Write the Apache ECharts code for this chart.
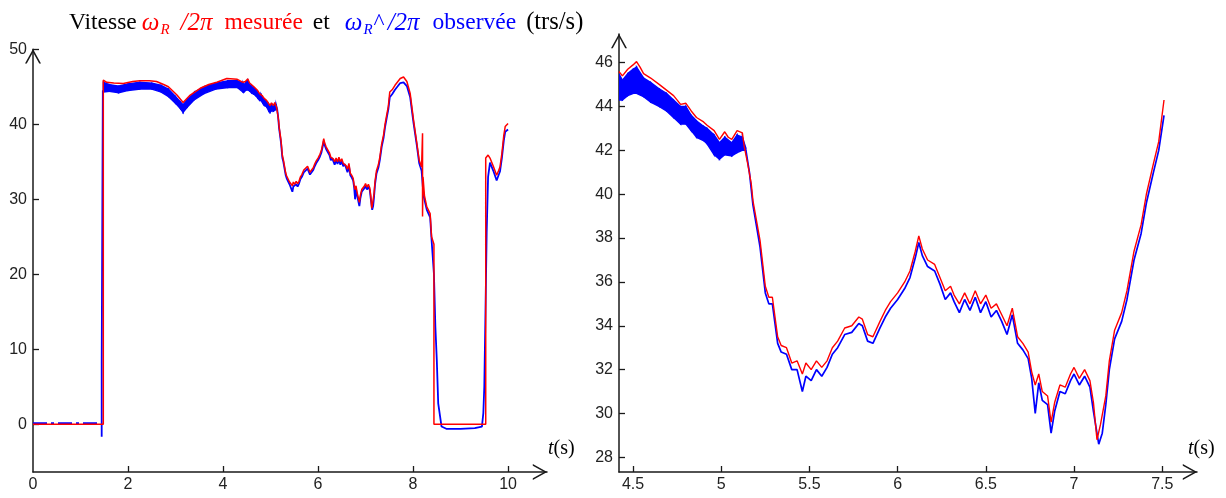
<!DOCTYPE html>
<html>
<head>
<meta charset="utf-8">
<script src="https://cdn.jsdelivr.net/npm/echarts@6/dist/echarts.min.js"></script>
<style>html,body{margin:0;padding:0;background:#fff}#c{width:1226px;height:498px}</style>
</head>
<body>
<div id="c"></div>
<script>
// ---- Tick labels ----
const leftXTicks = [0, 2, 4, 6, 8, 10];
const leftYTicks = [0, 10, 20, 30, 40, 50];
const rightXTicks = [4.5, 5, 5.5, 6, 6.5, 7, 7.5];
const rightYTicks = [28, 30, 32, 34, 36, 38, 40, 42, 44, 46];

// ---- Measured speed (red), [t (s), trs/s] ----
const redPoints = [
  [0,0],[1.48,0],[1.48,45.9],[1.55,45.6],[1.7,45.5],[1.9,45.45],[2.1,45.7],[2.25,45.8],[2.45,45.8],[2.6,45.7],
  [2.75,45.3],[2.85,45.0],[3.03,43.9],[3.16,42.9],[3.31,43.9],[3.52,44.8],[3.7,45.3],[3.87,45.6],[4.08,46.1],[4.3,46.0],
  [4.42,45.6],[4.44,45.4],[4.47,45.7],[4.5,45.9],[4.52,46.05],[4.54,45.8],[4.56,45.5],[4.6,45.3],[4.65,45.0],[4.69,44.75],
  [4.73,44.5],[4.77,44.1],[4.8,44.15],[4.83,43.8],[4.86,43.5],[4.9,43.3],[4.92,43.15],[4.96,42.9],[4.99,42.5],[5.02,42.85],
  [5.04,42.6],[5.06,42.5],[5.09,42.9],[5.12,42.8],[5.13,42.2],[5.15,41.4],[5.17,40.5],[5.18,39.7],[5.22,37.9],[5.25,35.8],
  [5.27,35.3],[5.29,35.3],[5.32,33.5],[5.34,33.1],[5.37,33.0],[5.40,32.3],[5.43,32.4],[5.46,31.8],[5.48,32.3],[5.51,32.0],
  [5.54,32.4],[5.57,32.1],[5.60,32.4],[5.63,33.0],[5.66,33.3],[5.70,33.9],[5.74,34.0],[5.78,34.4],[5.80,34.3],[5.83,33.6],
  [5.86,33.5],[5.9,34.2],[5.93,34.7],[5.96,35.1],[6.0,35.5],[6.04,36.0],[6.07,36.5],[6.1,37.4],[6.12,38.1],[6.14,37.5],
  [6.17,37.0],[6.21,36.8],[6.24,36.2],[6.27,35.6],[6.3,35.8],[6.32,35.4],[6.35,35.0],[6.38,35.5],[6.41,35.0],[6.44,35.6],
  [6.47,35.0],[6.5,35.4],[6.53,34.8],[6.56,35.0],[6.59,34.5],[6.62,34.0],[6.65,34.8],[6.68,33.5],[6.71,33.2],[6.74,32.8],
  [6.76,31.9],[6.78,31.3],[6.8,31.8],[6.82,31.0],[6.85,30.8],[6.87,29.6],[6.89,30.5],[6.92,31.3],[6.95,31.2],[6.98,31.8],
  [7.0,32.1],[7.03,31.6],[7.06,32.0],[7.09,31.5],[7.11,30.5],[7.13,28.8],[7.15,29.5],[7.18,30.8],[7.2,32.4],[7.23,33.8],
  [7.27,34.6],[7.3,35.6],[7.34,37.4],[7.38,38.6],[7.41,40.0],[7.45,41.4],[7.48,42.4],[7.51,44.3],[7.56,44.6],[7.62,45.2],
  [7.73,46.1],[7.8,46.3],[7.87,45.7],[7.94,44.1],[8.01,40.6],[8.08,37.5],[8.13,35.2],[8.18,34.3],[8.2,34.3],[8.2,38.8],
  [8.2,27.7],[8.21,33.0],[8.24,30.5],[8.29,29.0],[8.36,28.1],[8.39,25.0],[8.44,24.0],[8.44,0],[9.53,0],[9.53,35.5],
  [9.58,35.9],[9.62,35.5],[9.69,34.4],[9.76,33.2],[9.8,33.8],[9.83,34.3],[9.87,36.1],[9.91,38.5],[9.94,39.7],[10.0,40.1]
];

// ---- Observed speed (blue) ----
const blueStart = [[0,0.15],[1.44,0.15]];
const blueSpike = [[1.446,-1.65],[1.446,8.3],[1.47,8.3],[1.47,44.5],[1.48,44.4]];
// noisy band: time, lower and upper envelopes
const blueBandT  = [1.48,1.6,1.8,2.0,2.25,2.5,2.7,2.85,3.0,3.1,3.16,3.25,3.4,3.6,3.85,4.1,4.3,4.42,4.44,4.47,4.5,4.52,4.56,4.6,4.65,4.69,4.73,4.77,4.8,4.83,4.86,4.9,4.92,4.96,4.99,5.02,5.06,5.09,5.12,5.14];
const blueBandLo = [44.3,44.4,44.2,44.5,44.7,44.7,44.3,43.7,42.8,42.1,41.6,42.3,43.3,44.1,44.7,44.9,44.9,44.3,44.3,44.5,44.6,44.6,44.45,44.2,44.0,43.8,43.5,43.2,43.2,42.9,42.6,42.45,42.3,41.8,41.6,41.8,41.75,41.9,42.0,42.0];
const blueBandHi = [45.6,45.3,45.1,45.4,45.6,45.5,45.2,44.7,43.7,43.0,42.6,43.3,44.3,45.0,45.5,45.8,45.8,45.5,45.2,45.5,45.7,45.8,45.3,45.1,44.8,44.6,44.3,44.0,44.0,43.6,43.35,43.1,43.0,42.7,42.35,42.6,42.35,42.7,42.6,42.1];
// single-line part after the band
const blueTail = [
  [5.14,42.0],[5.16,41.0],[5.18,39.5],[5.22,37.6],[5.25,35.5],[5.27,35.0],[5.29,35.0],[5.32,33.2],[5.34,32.8],[5.37,32.7],
  [5.40,32.0],[5.43,32.0],[5.46,31.0],[5.48,31.7],[5.51,31.5],[5.54,32.0],[5.57,31.7],[5.60,32.1],[5.63,32.7],[5.66,33.0],
  [5.70,33.6],[5.74,33.7],[5.78,34.1],[5.80,34.0],[5.83,33.3],[5.86,33.2],[5.9,33.9],[5.93,34.4],[5.96,34.8],[6.0,35.2],
  [6.04,35.7],[6.07,36.2],[6.1,37.1],[6.12,37.8],[6.14,37.2],[6.17,36.7],[6.21,36.5],[6.24,35.9],[6.27,35.2],[6.3,35.5],
  [6.32,35.1],[6.35,34.6],[6.38,35.2],[6.41,34.7],[6.44,35.3],[6.47,34.6],[6.5,35.1],[6.53,34.4],[6.56,34.7],[6.59,34.2],
  [6.62,33.6],[6.65,34.5],[6.68,33.2],[6.71,32.9],[6.74,32.5],[6.76,31.6],[6.78,30.0],[6.8,31.4],[6.82,30.6],[6.85,30.4],
  [6.87,29.1],[6.89,30.1],[6.92,31.0],[6.95,30.9],[6.98,31.5],[7.0,31.8],[7.03,31.3],[7.06,31.7],[7.09,31.2],[7.11,30.1],
  [7.14,28.6],[7.16,29.1],[7.18,30.4],[7.2,32.0],[7.23,33.4],[7.27,34.2],[7.3,35.2],[7.34,37.0],[7.38,38.2],[7.41,39.6],
  [7.45,41.0],[7.48,42.0],[7.51,43.6],[7.56,44.0],[7.62,44.6],[7.73,45.5],[7.8,45.6],[7.87,45.1],[7.94,43.6],[8.01,40.2],
  [8.08,37.2],[8.13,34.8],[8.18,33.8],[8.22,30.5],[8.29,28.6],[8.36,27.6],[8.39,24.6],[8.44,20.0],[8.47,13.0],[8.5,8.6],
  [8.53,2.8],[8.6,-0.3],[8.7,-0.6],[9.0,-0.6],[9.3,-0.5],[9.45,-0.3],[9.48,1.5],[9.5,5.0],[9.52,13.0],[9.55,25.5],
  [9.58,33.0],[9.62,34.9],[9.69,33.8],[9.76,32.5],[9.8,33.2],[9.83,33.7],[9.87,35.5],[9.91,37.8],[9.94,39.0],[10.0,39.3]
];

// ---- build series data ----
const RED = '#ff0000', BLUE = '#0000ff', AX = '#1a1a1a';
const RIGHT_T0 = 4.42, RIGHT_T1 = 7.515;
const inRight = p => p[0] >= RIGHT_T0 && p[0] <= RIGHT_T1;
const bandRows = blueBandT.map((t, i) => [t, blueBandLo[i], blueBandHi[i]]);

const chevron = 'path://M0,9 L5,0 L10,9 L8.9,9 L5,1.9 L1.1,9 Z';

function xAxisCfg(grid, min, max, ticks) {
  return {
    type: 'value', gridIndex: grid, min: min, max: max,
    axisLine: { show: true, onZero: false, lineStyle: { color: AX, width: 1.5 },
      symbol: ['none', chevron], symbolSize: [16, 15], symbolOffset: [0, -7] },
    axisTick: { show: true, inside: true, length: 6, lineStyle: { color: AX, width: 1.3 }, customValues: ticks },
    axisLabel: { show: true, margin: 5, color: '#222', fontFamily: 'Liberation Sans', fontSize: 16, customValues: ticks },
    splitLine: { show: false },
    name: '{i|t}(s)', nameLocation: 'end', nameMoveOverlap: false,
    nameTextStyle: { fontFamily: 'Liberation Serif', fontSize: 20, color: '#000',
      verticalAlign: 'bottom', lineHeight: 24, padding: [0, 0, 11, 0],
      rich: { i: { fontFamily: 'Liberation Serif', fontStyle: 'italic', fontSize: 20, color: '#000', lineHeight: 24 } } }
  };
}
function yAxisCfg(grid, min, max, ticks) {
  return {
    type: 'value', gridIndex: grid, min: min, max: max,
    axisLine: { show: true, onZero: false, lineStyle: { color: AX, width: 1.5 },
      symbol: ['none', chevron], symbolSize: [16, 15], symbolOffset: [0, -7] },
    axisTick: { show: true, inside: true, length: 6, lineStyle: { color: AX, width: 1.3 }, customValues: ticks },
    axisLabel: { show: true, margin: 6, color: '#222', fontFamily: 'Liberation Sans', fontSize: 16, customValues: ticks },
    splitLine: { show: false }
  };
}
function lineS(grid, data, color, width, extra) {
  return Object.assign({
    type: 'line', xAxisIndex: grid, yAxisIndex: grid, data: data, showSymbol: false, symbol: 'none',
    lineStyle: { color: color, width: width }, itemStyle: { color: color }, clip: true,
    animation: false, silent: true
  }, extra || {});
}
// noisy band drawn as polygons between the lower and upper envelopes
function bandS(grid, rows) {
  return {
    type: 'custom', xAxisIndex: grid, yAxisIndex: grid, data: rows, clip: true, silent: true, animation: false,
    encode: { x: 0, y: [1, 2] },
    renderItem: function (params, api) {
      const i = params.dataIndex;
      if (i >= rows.length - 1) return null;
      const a = rows[i], b = rows[i + 1];
      const pts = [api.coord([a[0], a[1]]), api.coord([b[0], b[1]]), api.coord([b[0], b[2]]), api.coord([a[0], a[2]])];
      return { type: 'polygon', shape: { points: pts }, style: { fill: BLUE, stroke: BLUE, lineWidth: 1.4 } };
    }
  };
}

const xL = xAxisCfg(0, 0, 10.82, leftXTicks);
xL.axisTick.customValues = leftXTicks.filter(v => v > 0);
xL.nameGap = 1;
const xR = xAxisCfg(1, 4.4206, 7.697, rightXTicks);
xR.nameGap = -9;

const F = 'Liberation Serif';
const TS = 23.5, MS = 25, LH = 30;
const option = {
  animation: false,
  backgroundColor: '#fff',
  title: {
    left: 69, top: 8, padding: 0,
    text: '{k|Vitesse}{ri|ω}{rs|R}{ri2|/2π}{r|mesurée}{k2|et}{bi|ω}{bs|R}{b|^}{bi2|/2π}{b2|observée}{k3|(trs/s)}',
    textStyle: {
      fontFamily: F, fontSize: TS, fontWeight: 'normal', color: '#000', lineHeight: LH,
      rich: {
        k:   { fontFamily: F, fontSize: TS, color: '#000', lineHeight: LH },
        ri:  { fontFamily: F, fontSize: MS, fontStyle: 'italic', color: RED, lineHeight: LH, padding: [0, 0, 0, 5] },
        rs:  { fontFamily: F, fontSize: 15, fontStyle: 'italic', color: RED, lineHeight: 15, verticalAlign: 'bottom', padding: [0, 0, 0, 1] },
        ri2: { fontFamily: F, fontSize: MS, fontStyle: 'italic', color: RED, lineHeight: LH, padding: [0, 0, 0, 11] },
        r:   { fontFamily: F, fontSize: TS, color: RED, lineHeight: LH, padding: [0, 0, 0, 12] },
        k2:  { fontFamily: F, fontSize: TS, color: '#000', lineHeight: LH, padding: [0, 0, 0, 10] },
        bi:  { fontFamily: F, fontSize: MS, fontStyle: 'italic', color: BLUE, lineHeight: LH, padding: [0, 0, 0, 15] },
        bs:  { fontFamily: F, fontSize: 15, fontStyle: 'italic', color: BLUE, lineHeight: 15, verticalAlign: 'bottom', padding: [0, 0, 0, 1] },
        b:   { fontFamily: F, fontSize: TS, color: BLUE, lineHeight: LH, padding: [0, 0, 0, 1] },
        bi2: { fontFamily: F, fontSize: MS, fontStyle: 'italic', color: BLUE, lineHeight: LH, padding: [0, 0, 0, 3] },
        b2:  { fontFamily: F, fontSize: TS, color: BLUE, lineHeight: LH, padding: [0, 0, 0, 13] },
        k3:  { fontFamily: F, fontSize: 24.5, color: '#000', lineHeight: LH, padding: [0, 0, 0, 10] }
      }
    }
  },
  grid: [
    { left: 33, top: 49.3, width: 514, height: 422.7, outerBoundsMode: 'none', containLabel: false },
    { left: 619, top: 34, width: 578, height: 438, outerBoundsMode: 'none', containLabel: false }
  ],
  xAxis: [xL, xR],
  yAxis: [yAxisCfg(0, -6.36, 50, leftYTicks), yAxisCfg(1, 27.33, 47.31, rightYTicks)],
  series: [
    // left panel
    lineS(0, blueStart, BLUE, 2, { lineStyle: { color: BLUE, width: 2, type: [14, 4, 3, 4] } }),
    lineS(0, blueSpike, BLUE, 1.8),
    bandS(0, bandRows),
    lineS(0, blueTail, BLUE, 1.8),
    lineS(0, redPoints, RED, 1.5),
    // right panel
    bandS(1, bandRows.filter(inRight)),
    lineS(1, blueTail.filter(inRight), BLUE, 1.7),
    lineS(1, redPoints.filter(inRight), RED, 1.4)
  ]
};

const chart = echarts.init(document.getElementById('c'), null, { renderer: 'canvas' });
chart.setOption(option);
</script>
</body>
</html>
